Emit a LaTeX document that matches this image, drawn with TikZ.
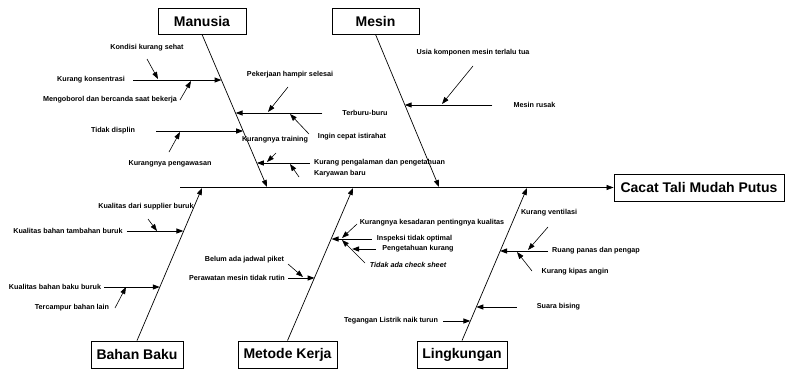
\documentclass[tikz,border=0pt]{standalone}
\usepackage{fontspec}
\setmainfont{Liberation Sans}
\usetikzlibrary{arrows.meta}

\begin{document}
\begin{tikzpicture}[x=1pt, y=-1pt,
  kat/.style={draw, line width=0.8pt, inner sep=0pt, minimum height=26pt,
              font=\fontsize{14}{16}\selectfont\bfseries},
  sebab/.style={inner sep=0pt, font=\fontsize{7.2}{8}\selectfont\bfseries},
  tulang/.style={-{Triangle[length=7pt,width=5pt]}, line width=0.7pt},
  rusuk/.style={-{Triangle[length=7pt,width=5pt]}, line width=1pt},
  panah/.style={-{Triangle[length=7pt,width=5pt]}, line width=0.6pt},
]
  \useasboundingbox (0,0) rectangle (786,370);

  % Kategori
  \node[kat, minimum width=88pt] (manusia) at (202,21) {Manusia};
  \node[kat, minimum width=87pt] (mesin) at (375.5,21) {Mesin};
  \node[kat, minimum width=92pt, minimum height=27pt] (bahan) at (137,354.5) {Bahan Baku};
  \node[kat, minimum width=99pt, minimum height=27pt] (metode) at (287.5,354.5) {Metode Kerja};
  \node[kat, minimum width=90pt, minimum height=27pt] (lingkungan) at (462,354.5) {Lingkungan};
  \node[kat, minimum width=170pt, minimum height=27pt] (akibat) at (699,187.5) {Cacat Tali Mudah Putus};

  % Tulang utama
  \coordinate (ekor) at (180,187.5);
  \coordinate (ujungMan) at (267,187);
  \coordinate (ujungMes) at (439,187);
  \coordinate (ujungBah) at (202,188);
  \coordinate (ujungMet) at (353,188);
  \coordinate (ujungLin) at (527,188);
  \draw[tulang] (ekor) -- (akibat.west);
  \draw[tulang] (manusia.south) -- (ujungMan);
  \draw[tulang] (mesin.south) -- (ujungMes);
  \draw[tulang] (bahan.north) -- (ujungBah);
  \draw[tulang] (metode.north) -- (ujungMet);
  \draw[tulang] (lingkungan.north) -- (ujungLin);

  % Manusia
  \node[sebab] (konsentrasi) at (91,80) {Kurang konsentrasi};
  \node[sebab] (kondisi) at (147,48) {Kondisi kurang sehat};
  \node[sebab] (ngobrol) at (110,100) {Mengoborol dan bercanda saat bekerja};
  \node[sebab] (terburu) at (365,113) {Terburu-buru};
  \node[sebab] (pekerjaan) at (290,75) {Pekerjaan hampir selesai};
  \node[sebab] (istirahat) at (352,137) {Ingin cepat istirahat};
  \node[sebab] (displin) at (113,131) {Tidak displin};
  \node[sebab] (pengawasan) at (170,164) {Kurangnya pengawasan};
  \node[sebab] (training) at (275,140) {Kurangnya training};
  \node[sebab] (pengalaman) at (379.5,163) {Kurang pengalaman dan pengetahuan};
  \node[sebab] (karyawan) at (340,174) {Karyawan baru};
  \coordinate (m1) at (221.5,80);
  \coordinate (m2) at (235.6,113);
  \coordinate (m3) at (243.2,131);
  \coordinate (m4) at (256.8,163);
  \coordinate (k1a) at (147,59);   \coordinate (k1b) at (158,79);
  \coordinate (k2a) at (180,100);  \coordinate (k2b) at (191,81);
  \coordinate (k3a) at (288,87);   \coordinate (k3b) at (268,112);
  \coordinate (k4a) at (309,134);  \coordinate (k4b) at (290,114);
  \coordinate (k5a) at (169,152);  \coordinate (k5b) at (180,132);
  \coordinate (k6a) at (276,153);  \coordinate (k6b) at (267,162);
  \coordinate (k7a) at (299,177);  \coordinate (k7b) at (290,164);
  \draw[rusuk, shorten <=8pt] (konsentrasi) -- (m1);
  \draw[rusuk, shorten <=20pt] (terburu) -- (m2);
  \draw[rusuk, shorten <=21pt] (displin) -- (m3);
  \draw[rusuk, shorten <=4pt] (pengalaman) -- (m4);
  \draw[panah] (k1a) -- (k1b);
  \draw[panah] (k2a) -- (k2b);
  \draw[panah] (k3a) -- (k3b);
  \draw[panah] (k4a) -- (k4b);
  \draw[panah] (k5a) -- (k5b);
  \draw[panah] (k6a) -- (k6b);
  \draw[panah] (k7a) -- (k7b);

  % Mesin
  \node[sebab] (rusak) at (534.5,105) {Mesin rusak};
  \node[sebab] (usia) at (473,53) {Usia komponen mesin terlalu tua};
  \coordinate (s1) at (404.7,105);
  \coordinate (u1a) at (473,66);   \coordinate (u1b) at (442,104);
  \draw[rusuk, shorten <=21pt] (rusak) -- (s1);
  \draw[panah] (u1a) -- (u1b);

  % Bahan Baku
  \node[sebab] (tambahan) at (68,231) {Kualitas bahan tambahan buruk};
  \node[sebab] (supplier) at (146,207) {Kualitas dari supplier buruk};
  \node[sebab] (bakuburuk) at (55,287) {Kualitas bahan baku buruk};
  \node[sebab] (tercampur) at (72,308) {Tercampur bahan lain};
  \coordinate (b1) at (183.4,231);
  \coordinate (b2) at (159.8,287);
  \coordinate (p1a) at (148,219);  \coordinate (p1b) at (157,231);
  \coordinate (p2a) at (115,308);  \coordinate (p2b) at (126,287);
  \draw[rusuk, shorten <=4pt] (tambahan) -- (b1);
  \draw[rusuk, shorten <=3pt] (bakuburuk) -- (b2);
  \draw[panah] (p1a) -- (p1b);
  \draw[panah] (p2a) -- (p2b);

  % Metode Kerja
  \node[sebab] (perawatan) at (237,278) {Perawatan mesin tidak rutin};
  \node[sebab] (piket) at (244.5,260) {Belum ada jadwal piket};
  \node[sebab] (inspeksi) at (414.5,239) {Inspeksi tidak optimal};
  \node[sebab] (kesadaran) at (432,223) {Kurangnya kesadaran pentingnya kualitas};
  \node[sebab] (pengetahuan) at (418,249) {Pengetahuan kurang};
  \node[sebab, font=\fontsize{7.2}{8}\selectfont\bfseries\itshape] (checksheet) at (408,265)
    {Tidak ada check sheet};
  \coordinate (t1) at (314.6,278);
  \coordinate (t2) at (331.5,239);
  \coordinate (t3) at (352,249);
  \coordinate (j1a) at (288,264);  \coordinate (j1b) at (303,277);
  \coordinate (j2a) at (357,224);  \coordinate (j2b) at (342,238);
  \coordinate (j3a) at (365,263);  \coordinate (j3b) at (342,240);
  \draw[rusuk, shorten <=3pt] (perawatan) -- (t1);
  \draw[rusuk, shorten <=5pt] (inspeksi) -- (t2);
  \draw[rusuk, shorten <=6pt] (pengetahuan) -- (t3);
  \draw[panah] (j1a) -- (j1b);
  \draw[panah] (j2a) -- (j2b);
  \draw[panah] (j3a) -- (j3b);

  % Lingkungan
  \node[sebab] (panas) at (596,251) {Ruang panas dan pengap};
  \node[sebab] (ventilasi) at (549,213) {Kurang ventilasi};
  \node[sebab] (kipas) at (575,272) {Kurang kipas angin};
  \node[sebab] (bising) at (558.5,307) {Suara bising};
  \node[sebab] (listrik) at (391,321) {Tegangan Listrik naik turun};
  \coordinate (l1) at (500,251);
  \coordinate (l2) at (476.3,307);
  \coordinate (l3) at (470.4,321);
  \coordinate (v1a) at (548,227);  \coordinate (v1b) at (528,250);
  \coordinate (v2a) at (532,271);  \coordinate (v2b) at (517,252);
  \draw[rusuk, shorten <=4pt] (panas) -- (l1);
  \draw[rusuk, shorten <=20pt] (bising) -- (l2);
  \draw[rusuk, shorten <=5pt] (listrik) -- (l3);
  \draw[panah] (v1a) -- (v1b);
  \draw[panah] (v2a) -- (v2b);
\end{tikzpicture}
\end{document}
